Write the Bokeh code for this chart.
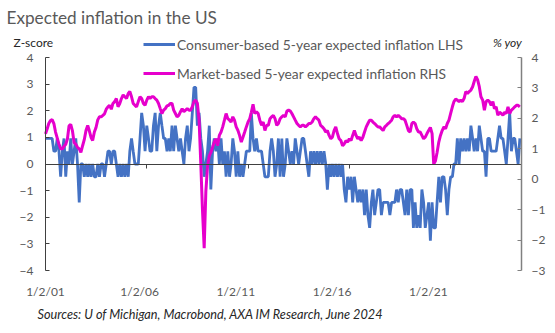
import pandas as pd
from bokeh.plotting import figure
from bokeh.models import (Range1d, LinearAxis, DatetimeAxis, FixedTicker, Legend, LegendItem,
                          Label, ColumnDataSource)
from bokeh.embed import file_html
from bokeh.resources import INLINE

# ---------------- data ----------------
consumer_z = [
    0.96, 0.96, 0.96, 0.96, 0.96, 0.48, 0.48, 0.96, 0.48, -0.48, 0.48, 0.96,      # 2001
    -0.48, 0.48, 0, 0.96, 0, 0.48, 0.96, 0, -1.44, 0, 0, -0.48,                   # 2002
    0, -0.48, 0, -0.48, 0, -0.48, -0.48, 0, -0.48, 0, 0, -0.48,                   # 2003
    0, 0.48, 0.48, 0, 0.48, 0.48, 0, -0.48, 0, -0.48, 0, -0.48,                   # 2004
    0, -0.48, 0.48, 0.96, 0.48, 0, 0, 0, 0.96, 1.92, 1.44, 0.48,                  # 2005
    1.44, 0.96, 0.48, 0.48, 1.44, 1.92, 0.48, 1.44, 1.92, 1.44, 0.96, 0.96,       # 2006
    0.48, 0.96, 0.48, 1.44, 0.48, 1.44, 0.96, 0.48, 0.96, 0.48, 0, 0.96,          # 2007
    1.44, 0.48, 0.96, 1.92, 2.88, 2.88, 1.44, 1.92, 0.96, 0.48, -0.48, 0,         # 2008
    0.48, 1.44, -0.96, 0.48, 0.96, 0.48, 0.96, 0, 0.96, 0, 0.48, -0.48,           # 2009
    0.48, -0.48, 0, 0.96, 0.48, -0.48, 0.48, -0.48, 0, -0.48, 0, 0.48,            # 2010
    0.48, 0.48, 1.92, 0.96, 0.48, 0.96, 0.48, 0.48, 0.48, 0, -0.48, -0.48,        # 2011
    -0.48, 0.48, 0.96, 0.48, -0.48, 0, 0.96, -0.48, 0.96, -0.48, 0, 0.96,         # 2012
    0.48, 0, 0.48, 0, 0.96, 0.48, 0, 0.48, 0.96, 0.96, 0.48, 0,                   # 2013
    -0.48, 0.48, 0, 0.48, 0, 0.48, 0, 0.48, 0, 0.48, 0, -0.96,                    # 2014
    0, -0.48, 0, -0.48, 0, -0.48, 0, -0.48, 0, -0.96, -1.44, -0.48,               # 2015
    -0.96, -0.48, -1.44, -0.48, -0.96, -1.44, -0.96, -1.44, -0.96, -1.92, -0.96, -1.92,  # 2016
    -2.4, -1.44, -0.96, -1.92, -1.44, -0.96, -0.96, -1.92, -1.44, -1.44, -1.44, -1.44,   # 2017
    -1.92, -1.44, -1.44, -1.44, -0.96, -1.44, -0.96, -0.96, -1.44, -1.92, -0.96, -1.92,  # 2018
    -0.96, -0.96, -2.4, -1.44, -2.4, -1.92, -2.4, -0.96, -1.44, -2.4, -1.92, -1.44,      # 2019
    -2.88, -1.44, -2.4, -2.4, -1.44, -0.48, -1.44, -0.48, -0.48, -0.96, -1.92, -0.96,    # 2020
    -0.48, -0.48, 0, 0, 0.96, 0, 0.96, 0.48, 0.96, 0.48, 0.96, 0.48,              # 2021
    1.44, 0.96, 0.48, 0.96, 0.48, 1.44, 0.96, 0.48, 0.48, -0.48, 0.96, 0.96,      # 2022
    0.48, 0.48, 0.48, 0.48, 0.96, 1.44, 0.96, 0.96, 0.48, 0, 0.96, 1.92,          # 2023
    0.48, 0.96, 0.96, 0.48, 0, 0.96,                                              # 2024
]

market_pct = [
    1.49, 1.66, 1.83, 1.93, 1.96, 1.83, 1.55, 1.35, 1.15, 1.0, 1.0, 1.08,         # 2001
    1.15, 1.33, 1.75, 1.8, 1.6, 1.2, 1.15, 1.05, 1.0, 0.88, 1.1, 1.3,             # 2002
    1.6, 1.77, 1.6, 1.38, 1.27, 1.55, 1.7, 1.95, 2.05, 2.05, 2.1, 2.15,           # 2003
    2.3, 2.38, 2.43, 2.3, 2.49, 2.55, 2.65, 2.38, 2.49, 2.65, 2.77, 2.71,         # 2004
    2.65, 2.82, 2.88, 2.71, 2.49, 2.43, 2.38, 2.55, 2.71, 2.65, 2.49, 2.43,       # 2005
    2.6, 2.71, 2.65, 2.71, 2.71, 2.65, 2.6, 2.49, 2.32, 2.16, 2.27, 2.32,         # 2006
    2.41, 2.43, 2.49, 2.49, 2.27, 2.16, 2.05, 2.1, 2.22, 2.32, 2.22, 2.27,        # 2007
    2.32, 2.27, 2.27, 2.38, 2.55, 2.6, 2.5, 1.95, 0.5, -1.0, -2.27, -0.4,         # 2008
    0.44, 0.77, 0.88, 1.05, 1.22, 1.33, 1.1, 1.44, 1.55, 1.72, 1.94, 2.16,        # 2009
    1.99, 1.94, 1.88, 2.05, 1.94, 1.72, 1.61, 1.44, 1.22, 1.38, 1.55, 1.72,       # 2010
    1.88, 1.99, 2.2, 2.46, 2.16, 2.22, 2.16, 1.94, 1.77, 1.88, 1.6, 1.77,         # 2011
    1.77, 1.99, 2.05, 2.1, 1.99, 1.77, 1.83, 1.99, 2.05, 2.1, 2.05, 2.24,         # 2012
    2.27, 2.24, 2.16, 2.05, 1.94, 1.83, 1.77, 1.72, 1.77, 1.77, 1.72, 1.77,       # 2013
    1.83, 1.83, 1.88, 1.99, 2.05, 1.99, 1.94, 1.77, 1.72, 1.66, 1.55, 1.6,        # 2014
    1.44, 1.33, 1.38, 1.6, 1.72, 1.5, 1.33, 1.27, 1.1, 1.16, 1.27, 1.22,          # 2015
    1.33, 1.27, 1.44, 1.6, 1.44, 1.33, 1.38, 1.27, 1.38, 1.55, 1.72, 1.83,        # 2016
    1.94, 1.94, 1.88, 1.83, 1.77, 1.72, 1.72, 1.66, 1.6, 1.72, 1.77, 1.83,        # 2017
    1.88, 1.94, 2.05, 2.1, 2.05, 2.1, 2.05, 1.99, 1.99, 1.94, 1.77, 1.6,          # 2018
    1.55, 1.83, 1.88, 1.83, 1.66, 1.55, 1.55, 1.44, 1.33, 1.38, 1.5, 1.6,         # 2019
    1.7, 1.5, 0.5, 0.6, 0.88, 1.22, 1.44, 1.6, 1.72, 1.66, 1.83, 1.94,            # 2020
    2.16, 2.38, 2.55, 2.63, 2.6, 2.55, 2.6, 2.55, 2.66, 2.88, 2.82, 2.88,         # 2021
    2.93, 3.04, 3.21, 3.38, 3.27, 3.04, 2.71, 2.6, 2.27, 2.55, 2.6, 2.55,         # 2022
    2.43, 2.55, 2.32, 2.38, 2.1, 2.2, 2.16, 2.1, 2.2, 2.16, 2.38, 2.16,           # 2023
    2.27, 2.32, 2.38, 2.43, 2.43, 2.38,                                           # 2024
]

tick_labels = ["1/2/01", "1/2/06", "1/2/11", "1/2/16", "1/2/21"]
label_dates = ["2001-01-01", "2005-08-25", "2010-05-26", "2015-02-24", "2019-11-24"]
mark_dates = ["2006-01-01", "2011-01-01", "2016-01-01", "2021-01-01"]
series_names = ["Consumer-based 5-year expected inflation LHS",
                "Market-based 5-year expected inflation RHS"]
lhs_ticks = [-4, -3, -2, -1, 0, 1, 2, 3, 4]
rhs_ticks = [-3, -2, -1, 0, 1, 2, 3, 4]

# ---------------- layout geometry (pixels in the 555x333 canvas) ----------------
W, H = 555, 333
PX_L, PX_R = 45, 521          # left / right axis positions
PY_TOP, PY_BOT = 57, 270      # y of top / bottom tick
T0, T1 = pd.Timestamp("2001-01-01"), pd.Timestamp("2024-07-01")
px_per_day = (PX_R - PX_L) / (T1 - T0).days
x_start = T0 - pd.Timedelta(days=PX_L / px_per_day)
x_end = T1 + pd.Timedelta(days=(W - PX_R) / px_per_day)

def yr(lo, hi):
    ppu = (PY_BOT - PY_TOP) / (hi - lo)
    return Range1d(lo - (H - PY_BOT) / ppu, hi + PY_TOP / ppu)

FONT = "Lato"
GREY = "#595959"
DARK = "#262626"
BLUE = "#4472C4"
MAGENTA = "#E600CC"

dates = pd.date_range("2001-01-01", periods=len(consumer_z), freq="MS")
src = ColumnDataSource(dict(date=dates, cz=consumer_z, mk=market_pct))

p = figure(width=W, height=H, x_axis_type=None, y_axis_type=None,
           x_range=Range1d(x_start, x_end), y_range=yr(-4, 4),
           output_backend="svg", toolbar_location=None,
           min_border=0, min_border_left=0, min_border_right=0,
           min_border_top=0, min_border_bottom=0)
p.outline_line_color = None
p.background_fill_color = "white"
p.border_fill_color = "white"
p.extra_y_ranges = {"rhs": yr(-3, 4)}

def style_axis(ax, color, standoff):
    ax.axis_line_color = color
    ax.major_tick_line_color = color
    ax.minor_tick_line_color = None
    ax.major_label_text_font = FONT
    ax.major_label_text_font_size = "12px"
    ax.major_label_text_color = GREY
    ax.major_label_standoff = standoff

# left axis
la = LinearAxis(ticker=FixedTicker(ticks=lhs_ticks), bounds=(-4, 4),
                fixed_location=T0.value / 1e6)
style_axis(la, "#404040", 12)
la.major_tick_in = 4
la.major_tick_out = 0
p.add_layout(la, "left")

# right axis
ra = LinearAxis(y_range_name="rhs", ticker=FixedTicker(ticks=rhs_ticks), bounds=(-3, 4),
                fixed_location=T1.value / 1e6)
style_axis(ra, "#808080", 10)
ra.axis_line_width = 1.5
ra.major_tick_in = 4
ra.major_tick_out = 0
p.add_layout(ra, "right")

# date labels along the bottom
label_ms = [pd.Timestamp(d).value / 1e6 for d in label_dates]
xa = DatetimeAxis(ticker=FixedTicker(ticks=label_ms), fixed_location=-4)
xa.major_label_overrides = {t: l for t, l in zip(label_ms, tick_labels)}
style_axis(xa, None, 7)
xa.major_tick_line_color = None
p.add_layout(xa, "below")

# zero line with tick marks
mark_ms = [pd.Timestamp(d).value / 1e6 for d in mark_dates]
za = DatetimeAxis(ticker=FixedTicker(ticks=mark_ms), fixed_location=0,
                  bounds=(T0.value / 1e6, T1.value / 1e6))
style_axis(za, "#404040", 0)
za.major_label_text_color = None
za.major_tick_in = 0
za.major_tick_out = 4
p.add_layout(za, "below")

r1 = p.line("date", "cz", source=src, line_color=BLUE, line_width=2.8)
r2 = p.line("date", "mk", source=src, line_color=MAGENTA, line_width=3, y_range_name="rhs")

legend = Legend(items=[LegendItem(label=series_names[0], renderers=[r1]),
                       LegendItem(label=series_names[1], renderers=[r2])],
                location=(143, H - 83), orientation="vertical",
                background_fill_alpha=0, border_line_alpha=0,
                label_text_font=FONT, label_text_font_size="13.8px", label_text_color=GREY,
                glyph_width=32, glyph_height=20, label_height=20, spacing=9,
                padding=0, margin=0, label_standoff=2)
p.add_layout(legend, "center")

def lab(text, x, y, size, color, style="normal", align="left"):
    p.add_layout(Label(x=x, y=H - y, x_units="screen", y_units="screen", text=text,
                       text_font=FONT, text_font_size=size, text_color=color,
                       text_font_style=style, text_align=align, text_baseline="middle"))

lab("Expected inflation in the US", 6, 17, "17.2px", GREY)
lab("Z-score", 13, 42, "12px", DARK)
lab("% yoy", 507, 42, "12px", DARK, style="italic", align="center")
lab("Sources: U of Michigan, Macrobond, AXA IM Research, June 2024", 37, 313, "12.7px",
    DARK, style="italic")

open("out.html", "w").write(file_html(p, INLINE))
